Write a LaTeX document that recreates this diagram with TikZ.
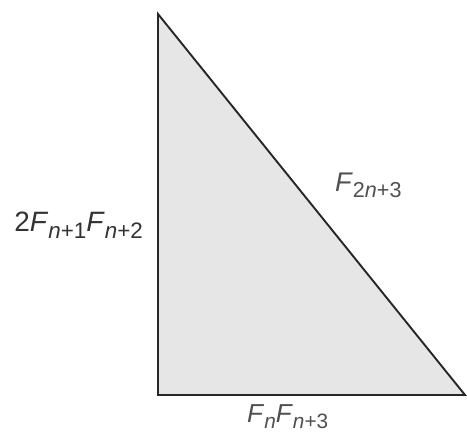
\documentclass[tikz,border=0pt]{standalone}
\usepackage{fontspec}
\setmainfont{Liberation Sans}
\usepackage{graphicx}
\usepackage{tikz}
\definecolor{legfill}{HTML}{E6E6E6}
\definecolor{labgray}{HTML}{505050}
\newcommand{\lo}[1]{\raisebox{-0.22em}{\scalebox{0.8}{#1}}}
\newcommand{\fsub}[1]{\textit{F}\lo{#1}}
\tikzset{sidelabel/.style={inner sep=0pt,text=labgray}}
\begin{document}
\begin{tikzpicture}[x=1pt,y=-1pt]
		\useasboundingbox (0,0) rectangle (467,435);
		\coordinate (top) at (158,14);
		\coordinate (corner) at (158,395);
		\coordinate (right) at (465,395);
		\draw[line width=1.9pt,draw=black!85,fill=legfill] (top) -- (corner) -- (right) -- cycle;
		\node[sidelabel,anchor=base east,text=black!80,font=\fontsize{28}{30}\selectfont] (leg) at (143,232) {2\fsub{\textit{n}+1}\fsub{\textit{n}+2}};
		\node[sidelabel,anchor=base west,font=\fontsize{27}{30}\selectfont] (hyp) at (335,192) {\fsub{2\textit{n}+3}};
		\node[sidelabel,anchor=base west,font=\fontsize{26}{29}\selectfont] (base) at (247,423) {\fsub{\textit{n}}\fsub{\textit{n}+3}};
	\end{tikzpicture}
\end{document}
